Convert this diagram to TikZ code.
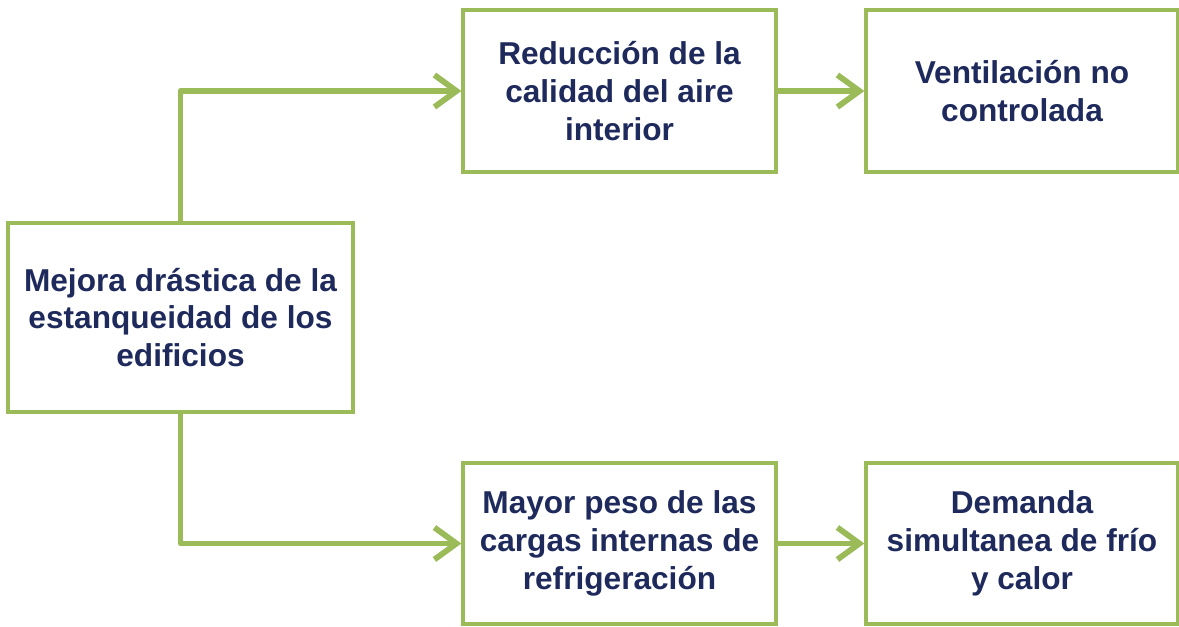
\documentclass[tikz,border=0pt]{standalone}
\usepackage{fontspec}
\setmainfont{Liberation Sans}
\usetikzlibrary{arrows.meta}
\definecolor{boxgreen}{RGB}{155,187,89}
\definecolor{textnavy}{RGB}{31,42,92}

\begin{document}
\begin{tikzpicture}[x=0.02cm, y=-0.02cm,
      box/.style={draw=boxgreen, line width=1.9pt, fill=white, align=center,
        text=textnavy, font=\fontsize{18}{21.6}\selectfont\bfseries, inner sep=0pt},
      link/.style={draw=boxgreen, line width=3.3pt, line join=round,
        -{Straight Barb[length=4.4mm, width=6.4mm]}}]
      \useasboundingbox (0,0) rectangle (1179,626);
      \node[box, minimum width=6.9cm, minimum height=3.78cm] (mejora) at (180.5,317.5) {Mejora drástica de la\\estanqueidad de los\\edificios};
      \node[box, minimum width=6.26cm, minimum height=3.24cm] (calidad) at (619.5,91) {Reducción de la\\calidad del aire\\interior};
      \node[box, minimum width=6.24cm, minimum height=3.24cm] (ventila) at (1022,91) {Ventilación no\\controlada};
      \node[box, minimum width=6.26cm, minimum height=3.22cm] (cargas) at (619.5,543.5) {Mayor peso de las\\cargas internas de\\refrigeración};
      \node[box, minimum width=6.24cm, minimum height=3.22cm] (demanda) at (1022,543.5) {Demanda\\simultanea de frío\\y calor};
      \draw[link] (mejora.north) |- (calidad.west);
      \draw[link] (mejora.south) |- (cargas.west);
      \draw[link] (calidad.east) -- (ventila.west);
      \draw[link] (cargas.east) -- (demanda.west);
\end{tikzpicture}
\end{document}
